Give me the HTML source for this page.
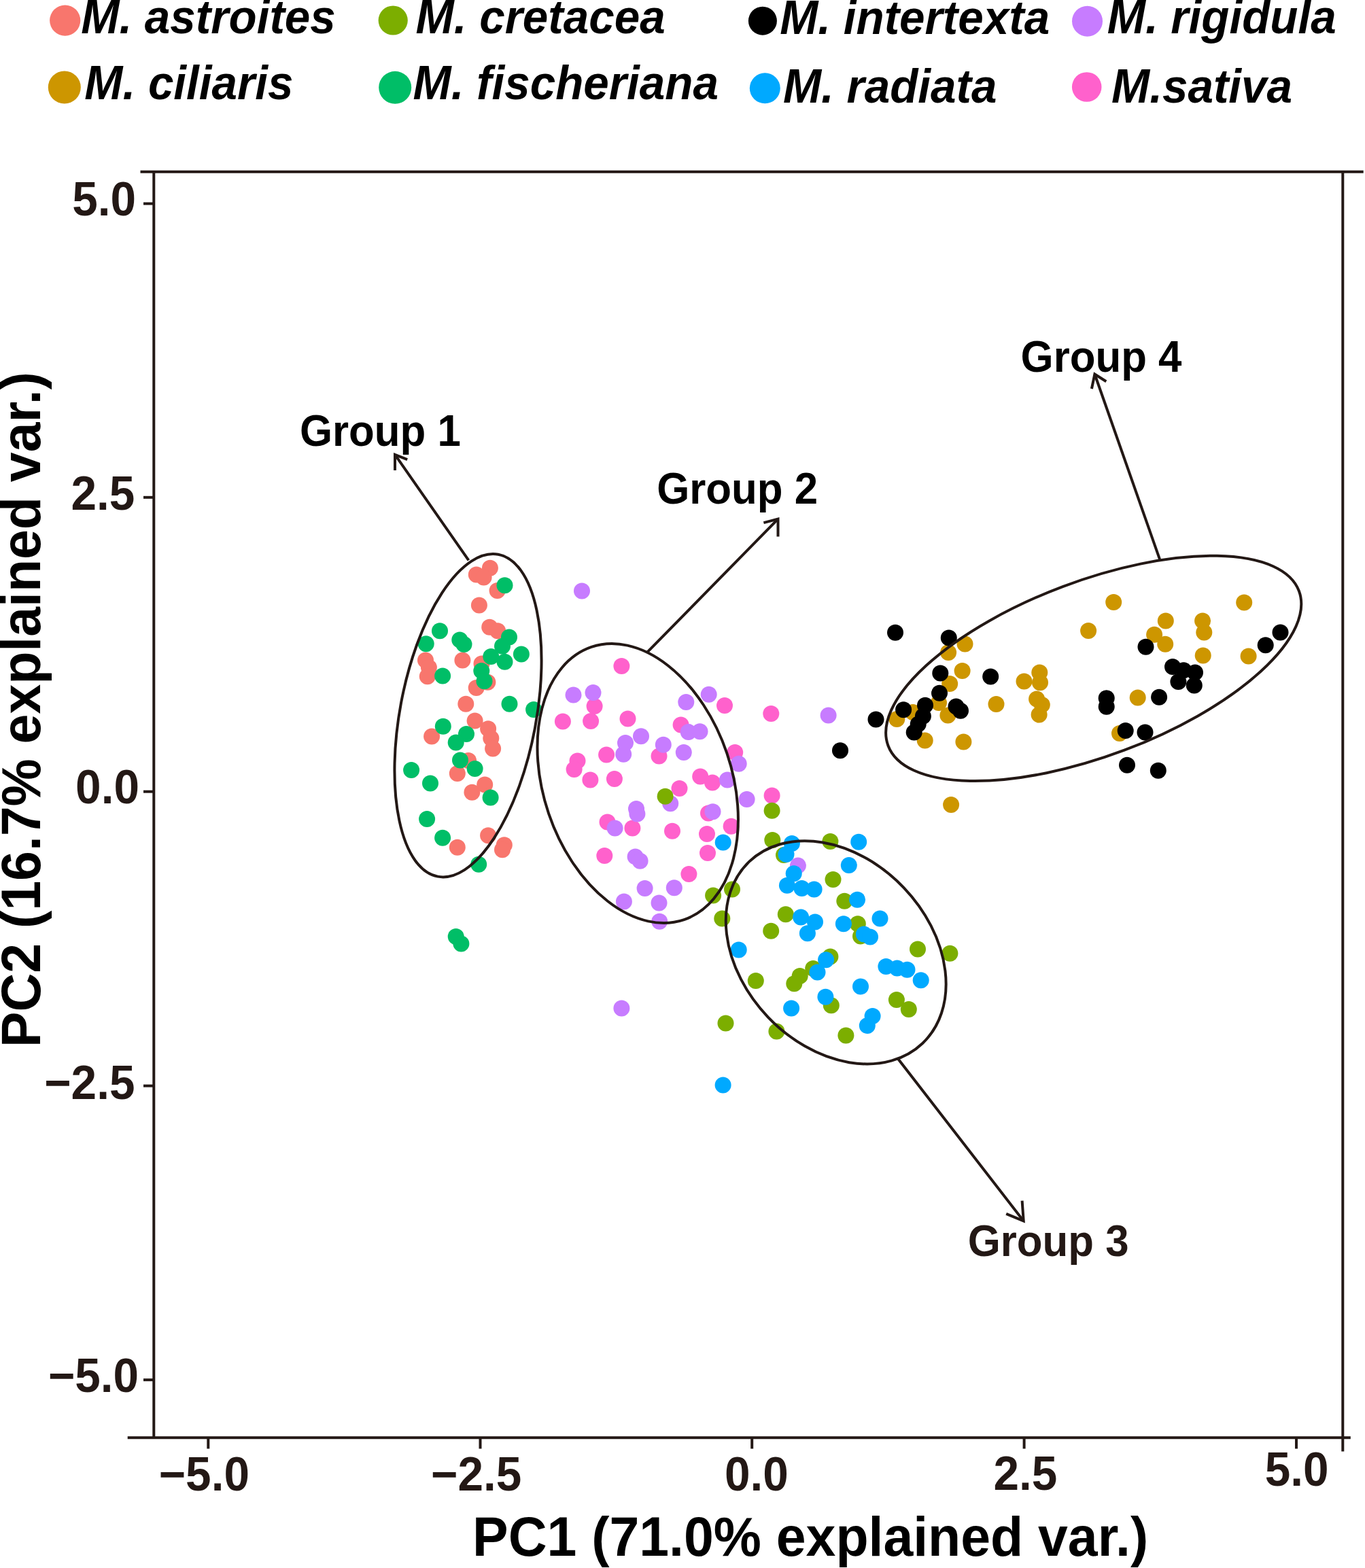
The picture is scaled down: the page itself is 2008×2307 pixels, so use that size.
<!DOCTYPE html>
<html><head><meta charset="utf-8"><title>PCA plot</title><style>
html,body{margin:0;padding:0;background:#fff;}
svg{display:block;}
text{font-family:"Liberation Sans",Arial,sans-serif;}
</style></head><body>
<svg width="2008" height="2307" viewBox="0 0 2008 2307">
<rect width="2008" height="2307" fill="#fff"/>
<circle cx="95.7" cy="30.1" r="22.6" fill="#F8766D"/>
<text x="119.3" y="47.08" transform="scale(1,1.045)" font-size="67.4" fill="#000" style="font-weight:bold;font-style:italic;">M. astroites</text>
<circle cx="578.2" cy="30" r="21.6" fill="#7CAE00"/>
<text x="611.6" y="47.08" transform="scale(1,1.045)" font-size="67.4" fill="#000" style="font-weight:bold;font-style:italic;">M. cretacea</text>
<circle cx="1121.9" cy="30.7" r="21" fill="#000000"/>
<text x="1147.2" y="47.37" transform="scale(1,1.045)" font-size="67.4" fill="#000" style="font-weight:bold;font-style:italic;">M. intertexta</text>
<circle cx="1599.5" cy="31.2" r="22.5" fill="#C77CFF"/>
<text x="1628.8" y="46.79" transform="scale(1,1.045)" font-size="67.4" fill="#000" style="font-weight:bold;font-style:italic;">M. rigidula</text>
<circle cx="94.8" cy="128.5" r="24" fill="#CD9600"/>
<text x="124.3" y="139.90" transform="scale(1,1.045)" font-size="67.4" fill="#000" style="font-weight:bold;font-style:italic;">M. ciliaris</text>
<circle cx="581.2" cy="128.8" r="24" fill="#00BE67"/>
<text x="607.5" y="140.10" transform="scale(1,1.045)" font-size="67.4" fill="#000" style="font-weight:bold;font-style:italic;">M. fischeriana</text>
<circle cx="1125.3" cy="129.8" r="22.5" fill="#00A9FF"/>
<text x="1151.9" y="144.40" transform="scale(1,1.045)" font-size="67.4" fill="#000" style="font-weight:bold;font-style:italic;">M. radiata</text>
<circle cx="1598.7" cy="128" r="21.8" fill="#FF61CC"/>
<text x="1635.1" y="144.69" transform="scale(1,1.045)" font-size="67.4" fill="#000" style="font-weight:bold;font-style:italic;">M.sativa</text>
<g stroke="#231815" stroke-width="4" fill="none">
<line x1="206.5" y1="252.8" x2="2005.7" y2="252.8"/>
<line x1="226.3" y1="251" x2="226.3" y2="2117"/>
<line x1="187.7" y1="2115.2" x2="1986.8" y2="2115.2"/>
<line x1="1975.3" y1="251" x2="1975.3" y2="2135.5"/>
<line x1="211" y1="299.6" x2="226" y2="299.6"/>
<line x1="211" y1="731.8" x2="226" y2="731.8"/>
<line x1="211" y1="1164.7" x2="226" y2="1164.7"/>
<line x1="211" y1="1597.6" x2="226" y2="1597.6"/>
<line x1="211" y1="2030.2" x2="226" y2="2030.2"/>
<line x1="306.3" y1="2115" x2="306.3" y2="2131.5"/>
<line x1="706.5" y1="2115" x2="706.5" y2="2131.5"/>
<line x1="1106.2" y1="2115" x2="1106.2" y2="2131.5"/>
<line x1="1506.6" y1="2115" x2="1506.6" y2="2131.5"/>
<line x1="1907" y1="2115" x2="1907" y2="2131.5"/>
</g>
<text x="106.2" y="305.00" transform="scale(1,1.04)" font-size="67.5" fill="#231815" style="font-weight:bold;">5.0</text>
<text x="104.4" y="721.63" transform="scale(1,1.04)" font-size="67.5" fill="#231815" style="font-weight:bold;">2.5</text>
<text x="111.1" y="1136.54" transform="scale(1,1.04)" font-size="67.5" fill="#231815" style="font-weight:bold;">0.0</text>
<text x="65.2" y="1554.81" transform="scale(1,1.04)" font-size="67.5" fill="#231815" style="font-weight:bold;">−2.5</text>
<text x="70.9" y="1969.23" transform="scale(1,1.04)" font-size="67.5" fill="#231815" style="font-weight:bold;">−5.0</text>
<text x="233.7" y="2109.13" transform="scale(1,1.04)" font-size="67.5" fill="#231815" style="font-weight:bold;">−5.0</text>
<text x="634.0" y="2108.94" transform="scale(1,1.04)" font-size="67.5" fill="#231815" style="font-weight:bold;">−2.5</text>
<text x="1066.0" y="2108.94" transform="scale(1,1.04)" font-size="67.5" fill="#231815" style="font-weight:bold;">0.0</text>
<text x="1461.5" y="2108.17" transform="scale(1,1.04)" font-size="67.5" fill="#231815" style="font-weight:bold;">2.5</text>
<text x="1860.7" y="2101.92" transform="scale(1,1.04)" font-size="67.5" fill="#231815" style="font-weight:bold;">5.0</text>
<text x="695.1" y="2201.35" transform="scale(1,1.04)" font-size="78.8" fill="#000" style="font-weight:bold;">PC1 (71.0% explained var.)</text>
<text transform="translate(58.6,1541.1) rotate(-90) scale(1,1.04)" x="0" y="0" font-size="78.8" fill="#000" style="font-weight:bold;">PC2 (16.7% explained var.)</text>
<text x="440.9" y="624.86" transform="scale(1,1.05)" font-size="61.8" fill="#000" style="font-weight:bold;">Group 1</text>
<text x="966.2" y="705.95" transform="scale(1,1.05)" font-size="61.8" fill="#000" style="font-weight:bold;">Group 2</text>
<text x="1423.7" y="1760.38" transform="scale(1,1.05)" font-size="61.8" fill="#231815" style="font-weight:bold;">Group 3</text>
<text x="1501.6" y="520.95" transform="scale(1,1.05)" font-size="61.8" fill="#000" style="font-weight:bold;">Group 4</text>
<g fill="#F8766D">
<circle cx="720.9" cy="835.8" r="12"/>
<circle cx="700.8" cy="845.5" r="12"/>
<circle cx="711.6" cy="849.5" r="12"/>
<circle cx="731.6" cy="869" r="12"/>
<circle cx="704.9" cy="890.5" r="12"/>
<circle cx="720.2" cy="922.8" r="12"/>
<circle cx="732.1" cy="928.3" r="12"/>
<circle cx="626" cy="971.6" r="12"/>
<circle cx="630.9" cy="982.1" r="12"/>
<circle cx="628.8" cy="995.3" r="12"/>
<circle cx="680.4" cy="971.6" r="12"/>
<circle cx="708.5" cy="976.5" r="12"/>
<circle cx="717.4" cy="1003.7" r="12"/>
<circle cx="700.7" cy="1012.1" r="12"/>
<circle cx="685.3" cy="1035.8" r="12"/>
<circle cx="635.1" cy="1083.5" r="12"/>
<circle cx="698.6" cy="1060.5" r="12"/>
<circle cx="718.1" cy="1072.3" r="12"/>
<circle cx="722.3" cy="1086.3" r="12"/>
<circle cx="725.1" cy="1101.6" r="12"/>
<circle cx="672.8" cy="1137.9" r="12"/>
<circle cx="689" cy="1119" r="12"/>
<circle cx="694.4" cy="1165.8" r="12"/>
<circle cx="713.2" cy="1154.6" r="12"/>
<circle cx="718.1" cy="1229.3" r="12"/>
<circle cx="741.8" cy="1243.2" r="12"/>
<circle cx="739" cy="1250.2" r="12"/>
<circle cx="672.8" cy="1246.7" r="12"/>
</g>
<g fill="#CD9600">
<circle cx="1395.1" cy="960" r="12"/>
<circle cx="1419.5" cy="947.4" r="12"/>
<circle cx="1415.6" cy="987" r="12"/>
<circle cx="1397.2" cy="1006" r="12"/>
<circle cx="1381" cy="1034" r="12"/>
<circle cx="1343" cy="1048" r="12"/>
<circle cx="1394.4" cy="1052.5" r="12"/>
<circle cx="1465.5" cy="1036" r="12"/>
<circle cx="1319.3" cy="1058" r="12"/>
<circle cx="1360.7" cy="1089.6" r="12"/>
<circle cx="1417.4" cy="1091.5" r="12"/>
<circle cx="1506.5" cy="1002.6" r="12"/>
<circle cx="1638.2" cy="886" r="12"/>
<circle cx="1601.1" cy="928.1" r="12"/>
<circle cx="1714.8" cy="913.5" r="12"/>
<circle cx="1698.1" cy="933.7" r="12"/>
<circle cx="1714.2" cy="947.7" r="12"/>
<circle cx="1529.3" cy="989.5" r="12"/>
<circle cx="1530" cy="1004.2" r="12"/>
<circle cx="1525.1" cy="1028.6" r="12"/>
<circle cx="1532.8" cy="1036.9" r="12"/>
<circle cx="1528.6" cy="1051.6" r="12"/>
<circle cx="1673.7" cy="1026.5" r="12"/>
<circle cx="1647" cy="1079" r="12"/>
<circle cx="1830.2" cy="886.5" r="12"/>
<circle cx="1769.1" cy="913.6" r="12"/>
<circle cx="1771.3" cy="930.4" r="12"/>
<circle cx="1769.7" cy="964.4" r="12"/>
<circle cx="1836.6" cy="965.5" r="12"/>
<circle cx="1399.1" cy="1183.9" r="12"/>
</g>
<g fill="#00BE67">
<circle cx="742.5" cy="861.2" r="12"/>
<circle cx="647" cy="928.3" r="12"/>
<circle cx="626.7" cy="947.2" r="12"/>
<circle cx="676.3" cy="941.6" r="12"/>
<circle cx="682.5" cy="947.9" r="12"/>
<circle cx="749" cy="937.4" r="12"/>
<circle cx="739" cy="950.7" r="12"/>
<circle cx="722.3" cy="966" r="12"/>
<circle cx="742.5" cy="973.7" r="12"/>
<circle cx="766.9" cy="962.5" r="12"/>
<circle cx="651.1" cy="994.6" r="12"/>
<circle cx="708.3" cy="986.9" r="12"/>
<circle cx="712.5" cy="1002.3" r="12"/>
<circle cx="749.5" cy="1035.8" r="12"/>
<circle cx="785.1" cy="1044.1" r="12"/>
<circle cx="651.8" cy="1068.8" r="12"/>
<circle cx="686" cy="1080" r="12"/>
<circle cx="670.7" cy="1092.6" r="12"/>
<circle cx="677" cy="1118.4" r="12"/>
<circle cx="698.6" cy="1130.9" r="12"/>
<circle cx="605.1" cy="1133" r="12"/>
<circle cx="633" cy="1152.5" r="12"/>
<circle cx="721.6" cy="1173.5" r="12"/>
<circle cx="628.1" cy="1204.9" r="12"/>
<circle cx="651.1" cy="1232.8" r="12"/>
<circle cx="704.2" cy="1271.8" r="12"/>
<circle cx="670.7" cy="1378.1" r="12"/>
<circle cx="678.4" cy="1388.6" r="12"/>
</g>
<g fill="#000000">
<circle cx="1317" cy="930.7" r="12"/>
<circle cx="1395.8" cy="938.4" r="12"/>
<circle cx="1383.3" cy="990.5" r="12"/>
<circle cx="1457.2" cy="995.6" r="12"/>
<circle cx="1382" cy="1019.8" r="12"/>
<circle cx="1361" cy="1037.7" r="12"/>
<circle cx="1329.1" cy="1044.3" r="12"/>
<circle cx="1406.5" cy="1039.6" r="12"/>
<circle cx="1413" cy="1045.8" r="12"/>
<circle cx="1357.9" cy="1053.8" r="12"/>
<circle cx="1350.7" cy="1065.4" r="12"/>
<circle cx="1344.7" cy="1077.6" r="12"/>
<circle cx="1288.5" cy="1058.5" r="12"/>
<circle cx="1236" cy="1104.2" r="12"/>
<circle cx="1685.5" cy="951.8" r="12"/>
<circle cx="1725" cy="981" r="12"/>
<circle cx="1741.2" cy="986.2" r="12"/>
<circle cx="1758" cy="989.5" r="12"/>
<circle cx="1733.4" cy="1002.9" r="12"/>
<circle cx="1756.8" cy="1008.5" r="12"/>
<circle cx="1627.7" cy="1027.2" r="12"/>
<circle cx="1627.7" cy="1039.7" r="12"/>
<circle cx="1705.1" cy="1025.8" r="12"/>
<circle cx="1655.7" cy="1075.1" r="12"/>
<circle cx="1684.5" cy="1077.6" r="12"/>
<circle cx="1658" cy="1125.8" r="12"/>
<circle cx="1703.8" cy="1133.7" r="12"/>
<circle cx="1883.5" cy="930.4" r="12"/>
<circle cx="1861.7" cy="949.3" r="12"/>
</g>
<g fill="#FF61CC">
<circle cx="914.4" cy="980" r="12"/>
<circle cx="874.6" cy="1039" r="12"/>
<circle cx="827.9" cy="1061.6" r="12"/>
<circle cx="869.1" cy="1060.9" r="12"/>
<circle cx="923.5" cy="1057.4" r="12"/>
<circle cx="892.1" cy="1110.5" r="12"/>
<circle cx="849.5" cy="1119.5" r="12"/>
<circle cx="844.6" cy="1132.1" r="12"/>
<circle cx="868.4" cy="1147.4" r="12"/>
<circle cx="903.9" cy="1146" r="12"/>
<circle cx="1001.6" cy="1066.5" r="12"/>
<circle cx="969.5" cy="1112.5" r="12"/>
<circle cx="999.5" cy="1160" r="12"/>
<circle cx="1030.2" cy="1142.5" r="12"/>
<circle cx="1048" cy="1151.6" r="12"/>
<circle cx="893.5" cy="1209.5" r="12"/>
<circle cx="930.4" cy="1218.6" r="12"/>
<circle cx="989" cy="1222.8" r="12"/>
<circle cx="889.3" cy="1259" r="12"/>
<circle cx="1042" cy="1196.5" r="12"/>
<circle cx="1040" cy="1227" r="12"/>
<circle cx="1041" cy="1255" r="12"/>
<circle cx="1013.4" cy="1286" r="12"/>
<circle cx="1066" cy="1038" r="12"/>
<circle cx="1134.3" cy="1050" r="12"/>
<circle cx="1081.2" cy="1107" r="12"/>
<circle cx="1135.6" cy="1170.4" r="12"/>
<circle cx="1075.6" cy="1215.8" r="12"/>
</g>
<g fill="#C77CFF">
<circle cx="856" cy="869.5" r="12"/>
<circle cx="843.5" cy="1022.5" r="12"/>
<circle cx="872.5" cy="1019" r="12"/>
<circle cx="1009.3" cy="1033" r="12"/>
<circle cx="1042.7" cy="1021.8" r="12"/>
<circle cx="920" cy="1093" r="12"/>
<circle cx="917.2" cy="1109.8" r="12"/>
<circle cx="943" cy="1083.2" r="12"/>
<circle cx="975.8" cy="1095.8" r="12"/>
<circle cx="1005.8" cy="1107" r="12"/>
<circle cx="1012.7" cy="1077" r="12"/>
<circle cx="1029.5" cy="1076.3" r="12"/>
<circle cx="936" cy="1190" r="12"/>
<circle cx="937.4" cy="1197.6" r="12"/>
<circle cx="986.2" cy="1182.3" r="12"/>
<circle cx="904.6" cy="1218.6" r="12"/>
<circle cx="934.6" cy="1260.4" r="12"/>
<circle cx="941.6" cy="1266.7" r="12"/>
<circle cx="1048.5" cy="1194.2" r="12"/>
<circle cx="1218.6" cy="1052.6" r="12"/>
<circle cx="1086.7" cy="1123.7" r="12"/>
<circle cx="1070" cy="1147.4" r="12"/>
<circle cx="1098.6" cy="1176" r="12"/>
<circle cx="1173.9" cy="1273.5" r="12"/>
<circle cx="948.6" cy="1307" r="12"/>
<circle cx="991.8" cy="1306.3" r="12"/>
<circle cx="917.9" cy="1326.5" r="12"/>
<circle cx="969.5" cy="1328.6" r="12"/>
<circle cx="970.2" cy="1355.8" r="12"/>
<circle cx="914.4" cy="1483.4" r="12"/>
</g>
<g fill="#FF61CC">
</g>
<g fill="#7CAE00">
<circle cx="978.6" cy="1171.8" r="12"/>
<circle cx="1135.6" cy="1192.8" r="12"/>
<circle cx="1136.3" cy="1236" r="12"/>
<circle cx="1221.4" cy="1238.1" r="12"/>
<circle cx="1153" cy="1258" r="12"/>
<circle cx="1049.1" cy="1317.4" r="12"/>
<circle cx="1077" cy="1308.4" r="12"/>
<circle cx="1062.3" cy="1351.6" r="12"/>
<circle cx="1134.2" cy="1369.7" r="12"/>
<circle cx="1155.8" cy="1345.3" r="12"/>
<circle cx="1225.5" cy="1294" r="12"/>
<circle cx="1242.3" cy="1325.8" r="12"/>
<circle cx="1261.8" cy="1359.3" r="12"/>
<circle cx="1266" cy="1377.4" r="12"/>
<circle cx="1221.4" cy="1407.4" r="12"/>
<circle cx="1196.2" cy="1424.9" r="12"/>
<circle cx="1176.7" cy="1436" r="12"/>
<circle cx="1168.3" cy="1447.2" r="12"/>
<circle cx="1111.8" cy="1443" r="12"/>
<circle cx="1222.8" cy="1479.3" r="12"/>
<circle cx="1067.5" cy="1505.5" r="12"/>
<circle cx="1142.4" cy="1517.5" r="12"/>
<circle cx="1244.4" cy="1523.5" r="12"/>
<circle cx="1350" cy="1396.5" r="12"/>
<circle cx="1397.4" cy="1402.7" r="12"/>
<circle cx="1318.9" cy="1471.1" r="12"/>
<circle cx="1336.8" cy="1485" r="12"/>
</g>
<g fill="#00A9FF">
<circle cx="1063.7" cy="1239.5" r="12"/>
<circle cx="1164.9" cy="1240.9" r="12"/>
<circle cx="1156.5" cy="1256.9" r="12"/>
<circle cx="1263.2" cy="1238.8" r="12"/>
<circle cx="1248.8" cy="1273" r="12"/>
<circle cx="1167.7" cy="1285.3" r="12"/>
<circle cx="1157.9" cy="1302.8" r="12"/>
<circle cx="1179.5" cy="1307" r="12"/>
<circle cx="1197.6" cy="1308.4" r="12"/>
<circle cx="1261.1" cy="1323.7" r="12"/>
<circle cx="1178.1" cy="1349.5" r="12"/>
<circle cx="1199" cy="1356.5" r="12"/>
<circle cx="1187.9" cy="1373.2" r="12"/>
<circle cx="1240.9" cy="1359.3" r="12"/>
<circle cx="1270.9" cy="1374.6" r="12"/>
<circle cx="1280" cy="1378.5" r="12"/>
<circle cx="1294.5" cy="1351.5" r="12"/>
<circle cx="1086.7" cy="1397.6" r="12"/>
<circle cx="1215.1" cy="1412.3" r="12"/>
<circle cx="1202.5" cy="1430.4" r="12"/>
<circle cx="1266" cy="1451.4" r="12"/>
<circle cx="1214.4" cy="1466.7" r="12"/>
<circle cx="1164.1" cy="1483.5" r="12"/>
<circle cx="1275.8" cy="1509" r="12"/>
<circle cx="1283.6" cy="1495" r="12"/>
<circle cx="1303.4" cy="1422.1" r="12"/>
<circle cx="1319.7" cy="1424.5" r="12"/>
<circle cx="1334.5" cy="1426.8" r="12"/>
<circle cx="1354.7" cy="1442.3" r="12"/>
<circle cx="1063.6" cy="1596.4" r="12"/>
</g>
<g stroke="#231815" stroke-width="4" fill="none">
<ellipse cx="688.5" cy="1052.7" rx="241.1" ry="100.2" transform="rotate(-79.36 688.5 1052.7)"/>
<ellipse cx="938.2" cy="1152.5" rx="211.8" ry="138.4" transform="rotate(-108.78 938.2 1152.5)"/>
<ellipse cx="1229.7" cy="1401.3" rx="184.7" ry="138.0" transform="rotate(-133.65 1229.7 1401.3)"/>
<ellipse cx="1608.7" cy="983.4" rx="322.9" ry="128.6" transform="rotate(159.36 1608.7 983.4)"/>
</g>
<g stroke="#231815" stroke-width="4" fill="none">
<line x1="689.4" y1="824.4" x2="581" y2="668.9"/>
<polyline points="599.2,676.1 581,668.9 581,692" stroke-linejoin="miter"/>
<line x1="951.4" y1="960.4" x2="1144.5" y2="763.6"/>
<polyline points="1123.4,769.1 1144.5,763.6 1144.5,789.4" stroke-linejoin="miter"/>
<line x1="1321.2" y1="1558" x2="1505.7" y2="1796.4"/>
<polyline points="1480.2,1785.8 1505.7,1796.4 1503.6,1766.7" stroke-linejoin="miter"/>
<line x1="1706.2" y1="823.4" x2="1610.4" y2="550.5"/>
<polyline points="1627.3,561.3 1610.4,550.5 1605.9,572" stroke-linejoin="miter"/>
</g>
</svg>
</body></html>
